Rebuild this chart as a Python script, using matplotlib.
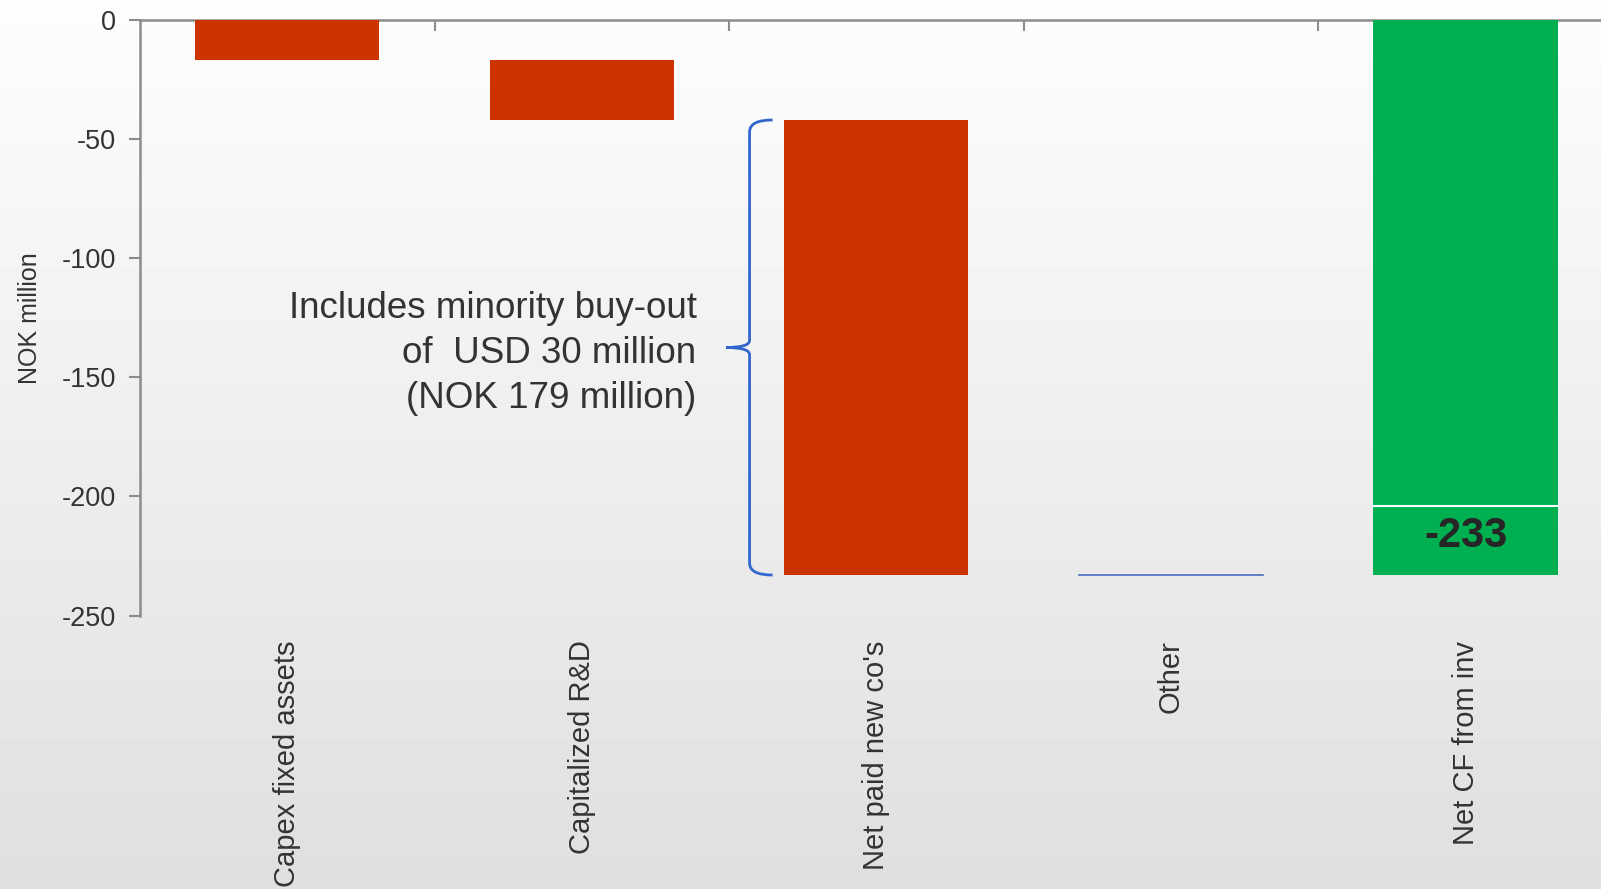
import numpy as np
import matplotlib
matplotlib.use("Agg")
import matplotlib.pyplot as plt
from matplotlib.path import Path
from matplotlib.patches import PathPatch

plt.rcParams['font.family'] = ['Liberation Sans', 'DejaVu Sans']
plt.rcParams['axes.unicode_minus'] = False

categories = ["Capex fixed assets", "Capitalized R&D", "Net paid new co's", "Other", "Net CF from inv"]
changes = [-17, -25, -191, 0]
total = -233
total_split = -204          # white separator inside the total bar
note = "Includes minority buy-out\nof  USD 30 million\n(NOK 179 million)"

red = "#CC3300"
green = "#00B050"
blue = "#3366CC"
axis_grey = "#8C8C8C"
text_col = "#333333"

fig = plt.figure(figsize=(16.01, 8.89), dpi=100)

# soft vertical gradient behind everything
bg = fig.add_axes([0, 0, 1, 1], zorder=-10)
grad = np.linspace(0.992, 0.875, 256).reshape(-1, 1)
bg.imshow(np.repeat(grad, 2, axis=1), cmap="gray", vmin=0, vmax=1, aspect="auto", extent=[0, 1, 0, 1])
bg.axis("off")

ax = fig.add_axes([0.0874, 0.3076, 0.92, 0.67])
ax.patch.set_alpha(0)

width = 0.625
x = np.arange(len(categories))
starts = np.concatenate([[0], np.cumsum(changes)[:-1]])

for i, (s, c) in enumerate(zip(starts, changes)):
    if c == 0:
        ax.plot([i - width / 2, i + width / 2], [s + c, s + c], color="#4A6FC0", lw=1.2, zorder=3)
    else:
        ax.bar(i, c, bottom=s, width=width, color=red, edgecolor="none", zorder=3)

# total bar in two pieces with a thin white line between them
ax.bar(x[-1], total_split, width=width, color=green, edgecolor="none", zorder=3)
ax.bar(x[-1], total - total_split, bottom=total_split, width=width, color=green, edgecolor="none", zorder=3)
ax.plot([x[-1] - width / 2, x[-1] + width / 2], [total_split, total_split], color="white", lw=1.5, zorder=4)
ax.text(x[-1], (total + total_split) / 2 + 2, f"{total}", ha="center", va="center",
        fontsize=30, fontweight="bold", color="#262626", zorder=5)

# curly brace next to the acquisitions bar
top = starts[2]
bot = starts[2] + changes[2]
mid = (top + bot) / 2
xe = 2 - width / 2 - 0.04
xs = xe - 0.078
xt = xs - 0.08
verts = [(xe, top), (xs, top), (xs, top - 5),
         (xs, mid + 3), (xs, mid), (xt, mid),
         (xs, mid), (xs, mid - 3),
         (xs, bot + 5), (xs, bot), (xe, bot)]
codes = [Path.MOVETO, Path.CURVE3, Path.CURVE3,
         Path.LINETO, Path.CURVE3, Path.CURVE3,
         Path.CURVE3, Path.CURVE3,
         Path.LINETO, Path.CURVE3, Path.CURVE3]
ax.add_patch(PathPatch(Path(verts, codes), facecolor="none", edgecolor=blue, lw=2, zorder=4))

ax.text(xt - 0.1, mid - 2.5, note, ha="right", va="center", fontsize=26.5, color=text_col,
        linespacing=1.36)

ax.set_xlim(-0.5, len(categories) - 0.5)
ax.set_ylim(-250, 0)
ax.set_yticks(np.arange(-250, 1, 50))
ax.tick_params(axis="y", direction="out", length=8, width=1.5, color=axis_grey,
               labelsize=19.5, labelcolor=text_col, pad=9)
ax.set_ylabel("NOK million", fontsize=18, color=text_col, labelpad=14)

# category axis sits at zero (top); labels stay at the bottom
ax.xaxis.set_ticks_position("top")
ax.set_xticks(x[:-1] + 0.5)
ax.set_xticklabels([])
ax.tick_params(axis="x", direction="in", length=8, width=1.5, color=axis_grey)
for i, name in enumerate(categories):
    ax.text(i, -260.5, name, rotation=90, ha="center", va="top", fontsize=21,
            color=text_col, transform=ax.transData, clip_on=False)

for side in ["right", "bottom"]:
    ax.spines[side].set_visible(False)
for side in ["left", "top"]:
    ax.spines[side].set_color(axis_grey)
    ax.spines[side].set_linewidth(1.8)

fig.savefig("out.png", dpi=100)
